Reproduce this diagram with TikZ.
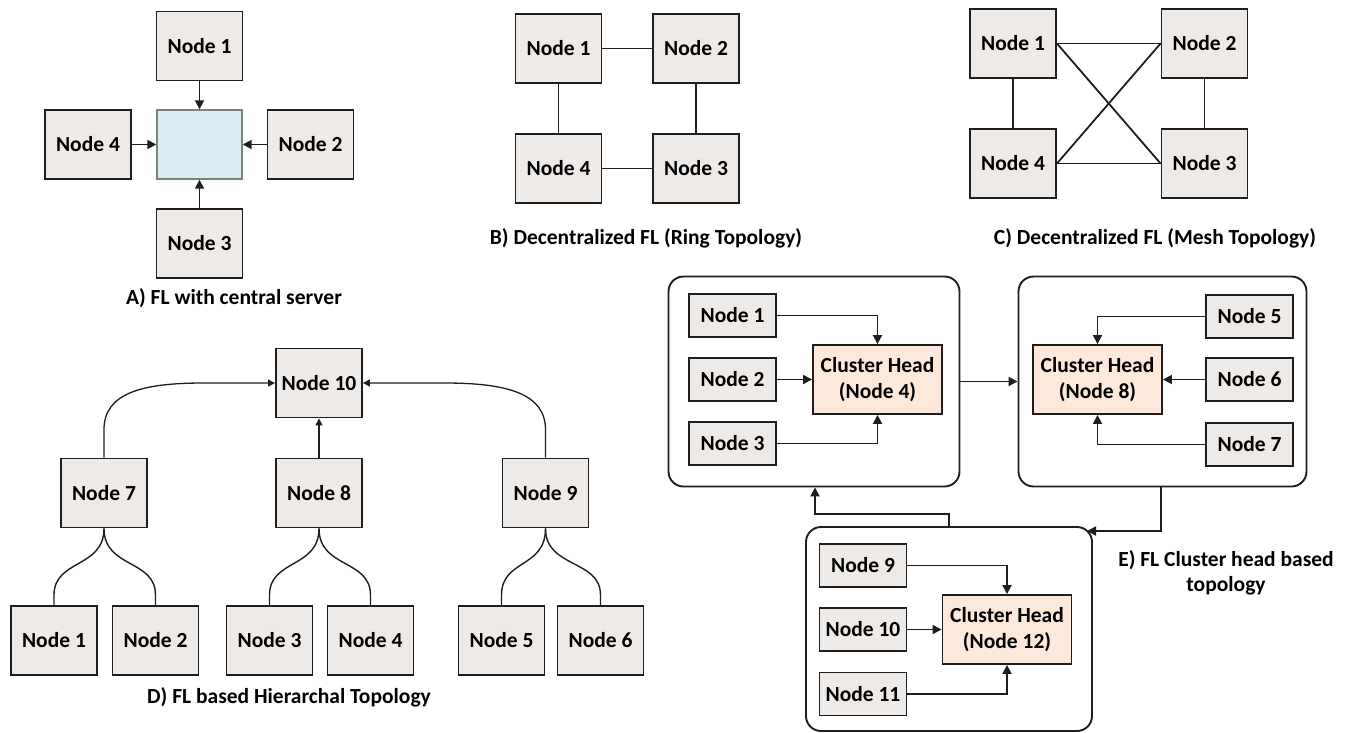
\documentclass[tikz,border=0pt]{standalone}
\usepackage{fontspec}
\setmainfont{Carlito}
\usetikzlibrary{arrows.meta}

\definecolor{boxgray}{RGB}{237,234,232}
\definecolor{serverblue}{RGB}{218,237,243}
\definecolor{headpeach}{RGB}{252,233,220}
\definecolor{edge}{RGB}{30,30,30}

\tikzset{
  lbl/.style={font=\bfseries\fontsize{21.5}{25}\selectfont},
  nodebox/.style={draw=edge, line width=1.9pt, fill=boxgray, inner sep=0pt,
    minimum width=86pt, minimum height=69pt, lbl},
  smallbox/.style={nodebox, minimum width=87pt, minimum height=43pt},
  headbox/.style={nodebox, fill=headpeach, minimum width=129pt, minimum height=69pt,
    align=center, font=\bfseries\fontsize{21.5}{25.5}\selectfont},
  serverbox/.style={draw=gray, line width=1.4pt, fill=serverblue, inner sep=0pt,
    minimum width=85pt, minimum height=69pt},
  groupbox/.style={draw=edge, line width=1.9pt, fill=white, rounded corners=15pt, inner sep=0pt},
  link/.style={draw=edge, line width=1.8pt},
  arr/.style={link, -{Triangle[length=9pt,width=9pt]}},
  sarr/.style={draw=edge, line width=1.3pt, -{Triangle[length=7pt,width=7pt]}},
  thin link/.style={draw=edge, line width=1.4pt},
  caption/.style={lbl, align=center}
}

\begin{document}
\begin{tikzpicture}[x=1pt,y=-1pt]
\useasboundingbox (0,0) rectangle (1350,732);

% ---------- A) central server ----------
\node[serverbox] (ac) at (199.5,144.5) {};
\node[nodebox] (a1) at (199.5,46) {Node 1};
\node[nodebox] (a4) at (88,144.5) {Node 4};
\node[nodebox] (a2) at (310.5,144.5) {Node 2};
\node[nodebox] (a3) at (199.5,243.5) {Node 3};
\draw[arr] (a1.south) -- (ac.north);
\draw[arr] (a4.east) -- (ac.west);
\draw[arr] (a2.west) -- (ac.east);
\draw[arr] (a3.north) -- (ac.south);
\node[caption] (acap) at (234,298) {A) FL with central server};

% ---------- B) ring ----------
\node[nodebox] (b1) at (558.5,48.5) {Node 1};
\node[nodebox] (b2) at (696,48.5) {Node 2};
\node[nodebox] (b4) at (558.5,168.5) {Node 4};
\node[nodebox] (b3) at (696,168.5) {Node 3};
\draw[link] (b1) -- (b2);
\draw[link] (b2) -- (b3);
\draw[link] (b3) -- (b4);
\draw[link] (b4) -- (b1);
\node[caption] (bcap) at (646,238) {B) Decentralized FL (Ring Topology)};

% ---------- C) mesh ----------
\node[nodebox] (c1) at (1013,43.5) {Node 1};
\node[nodebox] (c2) at (1204.5,43.5) {Node 2};
\node[nodebox] (c4) at (1013,163.5) {Node 4};
\node[nodebox] (c3) at (1204.5,163.5) {Node 3};
\draw[link] (c1) -- (c2);
\draw[link] (c2) -- (c3);
\draw[link] (c3) -- (c4);
\draw[link] (c4) -- (c1);
\draw[link] (c1.east) -- (c3.west);
\draw[link] (c4.east) -- (c2.west);
\node[caption] (ccap) at (1155,238) {C) Decentralized FL (Mesh Topology)};

% ---------- D) hierarchy ----------
\node[nodebox] (n10) at (319,383) {Node 10};
\node[nodebox] (n7) at (104,493) {Node 7};
\node[nodebox] (n8) at (319,493) {Node 8};
\node[nodebox] (n9) at (545.5,493) {Node 9};
\node[nodebox] (d1) at (54,640.5) {Node 1};
\node[nodebox] (d2) at (155.5,640.5) {Node 2};
\node[nodebox] (d3) at (269.5,640.5) {Node 3};
\node[nodebox] (d4) at (370.5,640.5) {Node 4};
\node[nodebox] (d5) at (501.5,640.5) {Node 5};
\node[nodebox] (d6) at (600.5,640.5) {Node 6};

\draw[sarr] (n8.north) -- (n10.south);
\draw[sarr] (n7.north) -- ++(0,-28) .. controls +(0,-36) and +(-62,0) .. ([xshift=-72pt]n10.west) -- (n10.west);
\draw[sarr] (n9.north) -- ++(0,-28) .. controls +(0,-36) and +(62,0) .. ([xshift=82pt]n10.east) -- (n10.east);

\foreach \p/\c in {n7/d1,n7/d2,n8/d3,n8/d4,n9/d5,n9/d6}{
  \draw[thin link] (\p.south) .. controls +(0,40) and +(0,-36) .. ([yshift=10pt]\c.north) -- (\c.north);
}
\node[caption] (dcap) at (289,697) {D) FL based Hierarchal Topology};

% ---------- E) cluster heads ----------
\node[groupbox, minimum width=291pt, minimum height=210pt] (k1) at (814,381.5) {};
\node[groupbox, minimum width=288pt, minimum height=210pt] (k2) at (1162.5,381.5) {};
\node[groupbox, minimum width=286pt, minimum height=204pt] (k3) at (949,629) {};

\node[smallbox] (e1) at (732.5,315.5) {Node 1};
\node[smallbox] (e2) at (732.5,379.5) {Node 2};
\node[smallbox] (e3) at (732.5,443.5) {Node 3};
\node[headbox] (h1) at (877.5,379.5) {Cluster Head\\(Node 4)};
\draw[arr] (e1.east) -| (h1.north);
\draw[arr] (e2.east) -- (h1.west);
\draw[arr] (e3.east) -| (h1.south);

\node[smallbox] (e5) at (1249.5,316.5) {Node 5};
\node[smallbox] (e6) at (1249.5,379.5) {Node 6};
\node[smallbox] (e7) at (1249.5,444.5) {Node 7};
\node[headbox] (h2) at (1097.5,379.5) {Cluster Head\\(Node 8)};
\draw[arr] (e5.west) -| (h2.north);
\draw[arr] (e6.west) -- (h2.east);
\draw[arr] (e7.west) -| (h2.south);

\node[smallbox] (e9) at (863,565.5) {Node 9};
\node[smallbox] (e10) at (863,629.5) {Node 10};
\node[smallbox] (e11) at (863,694) {Node 11};
\node[headbox] (h3) at (1007,629.5) {Cluster Head\\(Node 12)};
\draw[arr] (e9.east) -| (h3.north);
\draw[arr] (e10.east) -- (h3.west);
\draw[arr] (e11.east) -| (h3.south);

% links between the three clusters
\draw[arr] (k1.east) -- (k2.west);
\coordinate (up1) at (949,514);
\coordinate (up2) at (815,514);
\draw[arr] (up1 |- k3.north) -- (up1) -- (up2) -- (up2 |- k1.south);
\coordinate (dn1) at (1161,531);
\coordinate (dn2) at (1087,531);
\draw[arr] (dn1 |- k2.south) -- (dn1) -- (dn2);

\node[caption, font=\bfseries\fontsize{21.5}{25}\selectfont] (ecap) at (1226,573) {E) FL Cluster head based\\topology};
\end{tikzpicture}
\end{document}
